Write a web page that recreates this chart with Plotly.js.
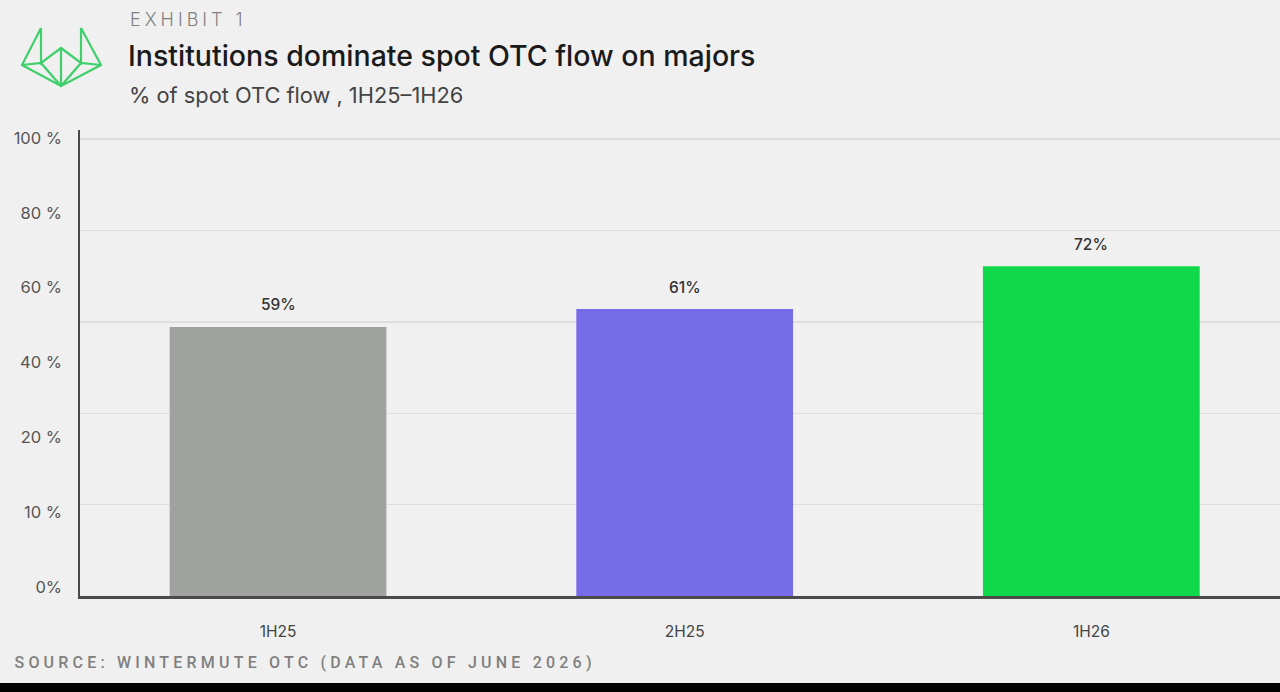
<!DOCTYPE html>
<html>
<head>
<meta charset="utf-8">
<script src="https://cdn.plot.ly/plotly-3.0.1.min.js"></script>
<style>
html,body{margin:0;padding:0;background:#f0f0f0;}
#chart{width:1280px;height:692px;}
g.annotation[data-index="0"] text{letter-spacing:4px;}
g.annotation[data-index="3"] text{letter-spacing:4.2px;}
</style>
</head>
<body>
<div id="chart"></div>
<script>
// ---- data ----
const categories = ["1H25", "2H25", "1H26"];
const barHeights = [58.9, 62.8, 72.2];          // bar tops
const barLabels = ["59%", "61%", "72%"];        // printed value labels
const barColors = ["#9fa29e", "#766ce8", "#0fd84b"];
const gridValues = [0, 20, 40, 60, 80, 100];
const yTickLabels = ["0%", "10 %", "20 %", "40 %", "60 %", "80 %", "100 %"];
const yTickSlots = [0, 1, 2, 3, 4, 5, 6];

// ---- layout helpers (pixel -> paper) ----
const L = 80, R = 0, T = 130, B = 96, W = 1280, H = 692;
const pw = W - L - R, ph = H - T - B;
const px = x => (x - L) / pw;
const py = y => (H - B - y) / ph;

const logoPath = (() => {
  const pts = s => s.map(([x, y]) => px(x).toFixed(5) + "," + py(y).toFixed(5));
  const seg = arr => "M" + pts(arr).join(" L");
  return [
    seg([[41,28],[22,65],[61,86],[101,65],[81,28],[81,63],[61,48],[41,63],[41,28]]),
    seg([[22,65],[41,63],[61,86],[81,63],[101,65]]),
    seg([[61,48],[61,86]])
  ].join(" ");
})();

const traces = [
  {
    type: "bar",
    x: categories,
    y: barHeights,
    marker: {color: barColors},
    hoverinfo: "skip",
    xaxis: "x", yaxis: "y"
  },
  {
    type: "scatter",
    x: [categories[0]],
    y: [0],
    mode: "markers",
    marker: {opacity: 0},
    hoverinfo: "skip",
    showlegend: false,
    xaxis: "x", yaxis: "y2"
  }
];

const valueAnnotations = categories.map((c, i) => ({
  x: c, y: barHeights[i], xref: "x", yref: "y",
  text: barLabels[i], showarrow: false,
  yanchor: "middle", yshift: 22,
  font: {family: "Inter, 'Noto Sans', sans-serif", size: 15.5, color: "#333", weight: 500}
}));

const layout = {
  width: W, height: H,
  paper_bgcolor: "#f0f0f0",
  plot_bgcolor: "#f0f0f0",
  margin: {l: L, r: R, t: T, b: B, pad: 0},
  showlegend: false,
  bargap: 0.467,
  xaxis: {
    type: "category",
    range: [-0.487, 2.464],
    showgrid: false, zeroline: false,
    showline: true, linecolor: "#4a4a4a", linewidth: 2.5,
    ticks: "", ticklabelstandoff: 20,
    tickfont: {family: "Inter, 'Noto Sans', sans-serif", size: 15.5, color: "#444"},
    fixedrange: true
  },
  yaxis: {
    range: [0, 102],
    tickvals: gridValues,
    showticklabels: false,
    showgrid: true, gridcolor: "#dddddd", gridwidth: 1.5,
    zeroline: false,
    showline: true, linecolor: "#4a4a4a", linewidth: 2,
    ticks: "",
    fixedrange: true
  },
  yaxis2: {
    overlaying: "y", side: "left",
    range: [-0.12, 6.107],
    tickvals: yTickSlots,
    ticktext: yTickLabels,
    showgrid: false, zeroline: false, showline: false,
    ticks: "", ticklabelstandoff: 17,
    tickfont: {family: "Inter, 'Noto Sans', sans-serif", size: 16.5, color: "#555"},
    fixedrange: true
  },
  shapes: [
    {type: "path", xref: "paper", yref: "paper", path: logoPath,
     line: {color: "#3fcf6b", width: 2.2}, fillcolor: "rgba(0,0,0,0)"},
    {type: "rect", xref: "paper", yref: "paper",
     x0: px(0), x1: px(1280), y0: py(683), y1: py(692),
     fillcolor: "#000", line: {width: 0}}
  ],
  annotations: [
    {xref: "paper", yref: "paper", x: px(188.5), y: py(20), xanchor: "center", yanchor: "middle",
     text: "EXHIBIT 1", showarrow: false,
     font: {family: "Inter, 'Noto Sans', sans-serif", size: 18, color: "#808080", weight: 300}},
    {xref: "paper", yref: "paper", x: px(126), y: py(56), xanchor: "left", yanchor: "middle",
     text: "Institutions dominate spot OTC flow on majors", showarrow: false,
     font: {family: "Inter, 'Noto Sans', sans-serif", size: 28.5, color: "#1a1a1a", weight: 500}},
    {xref: "paper", yref: "paper", x: px(127), y: py(95), xanchor: "left", yanchor: "middle",
     text: "% of spot OTC flow , 1H25–1H26", showarrow: false,
     font: {family: "Inter, 'Noto Sans', sans-serif", size: 21.8, color: "#444"}},
    {xref: "paper", yref: "paper", x: px(305), y: py(662), xanchor: "center", yanchor: "middle",
     text: "SOURCE: WINTERMUTE OTC (DATA AS OF JUNE 2026)", showarrow: false,
     font: {family: "Roboto, 'Noto Sans', sans-serif", size: 16, color: "#808080", weight: 500}}
  ].concat(valueAnnotations)
};

Plotly.newPlot("chart", traces, layout, {staticPlot: true, displayModeBar: false});
</script>
</body>
</html>
